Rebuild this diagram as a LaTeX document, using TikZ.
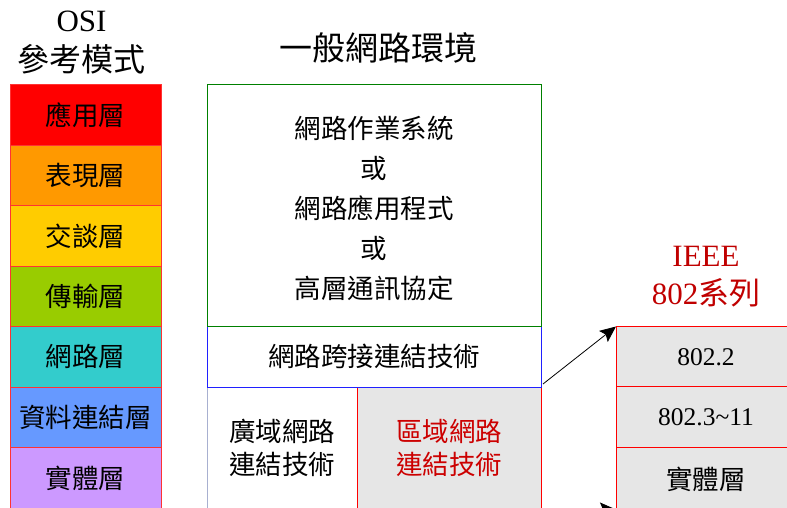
\documentclass[tikz,border=0pt]{standalone}
\usepackage{fontspec}
\setmainfont{Liberation Serif}
\newfontfamily\cjk{Noto Sans CJK TC}
\usetikzlibrary{arrows.meta}
\definecolor{osiA}{HTML}{FF0000}
\definecolor{osiB}{HTML}{FF9900}
\definecolor{osiC}{HTML}{FFCC00}
\definecolor{osiD}{HTML}{99CC00}
\definecolor{osiE}{HTML}{33CCCC}
\definecolor{osiF}{HTML}{6699FF}
\definecolor{osiG}{HTML}{CC99FF}
\definecolor{boxgray}{HTML}{E6E6E6}
\definecolor{darkred}{HTML}{C00000}
\definecolor{lanred}{HTML}{CC0000}
\definecolor{wanedge}{HTML}{A8B0D0}
\definecolor{osiedge}{HTML}{FF3333}
\definecolor{boxgreen}{HTML}{008000}
\definecolor{bridgeedge}{HTML}{2020FF}
\begin{document}
\begin{tikzpicture}[x=1pt,y=-1pt,
  cell/.style={rectangle, anchor=north west, inner sep=0pt, outer sep=0pt, line width=1pt,
    font=\cjk\fontsize{26.5}{33}\selectfont, align=center},
  osi/.style={cell, draw=osiedge, minimum width=151pt, minimum height=60.4pt},
  ieee/.style={cell, draw=red, fill=boxgray, minimum width=180pt, minimum height=60.4pt},
  arr/.style={-{Stealth[length=16pt,width=14pt,inset=3pt]}, line width=0.8pt},
  lbl/.style={inner sep=0pt, align=center}
]
\useasboundingbox (0,0) rectangle (787,508);
\clip (0,0) rectangle (787,508);

% OSI column
\node[lbl, font=\fontsize{31}{36}\selectfont] (osi) at (81.5,21) {OSI};
\node[lbl, font=\cjk\fontsize{32}{36}\selectfont] (ref) at (81.5,59.5) {參考模式};
\node[osi, fill=osiA] (app) at (10,85) {應用層};
\node[osi, fill=osiB] (pre) at (app.south west) {表現層};
\node[osi, fill=osiC] (ses) at (pre.south west) {交談層};
\node[osi, fill=osiD] (tra) at (ses.south west) {傳輸層};
\node[osi, fill=osiE] (net) at (tra.south west) {網路層};
\node[osi, fill=osiF] (dl) at (net.south west) {資料連結層};
\node[osi, fill=osiG, minimum height=61.6pt] (phy) at (dl.south west) {實體層};

% middle column
\node[lbl, font=\cjk\fontsize{33}{36}\selectfont] (title) at (378,47.5) {一般網路環境};
\node[cell, minimum width=150pt, minimum height=122pt] (wan) at (207,387) {廣域網路\\連結技術};
\node[cell, fill=boxgray, text=lanred, minimum width=184pt, minimum height=122pt] (lan) at (wan.north east) {區域網路\\連結技術};
\draw[wanedge, line width=1pt] (wan.north west) -- (wan.south west);
\draw[red, line width=1pt] (lan.south west) -- (lan.north west) -- (lan.north east) -- (lan.south east);
\node[cell, draw=bridgeedge, minimum width=334pt, minimum height=60.5pt] (bridge) at (207,326.5) {網路跨接連結技術};
\node[cell, draw=boxgreen, minimum width=334pt, minimum height=241.5pt,
  font=\cjk\fontsize{26.5}{40}\selectfont] (nos) at (207,85)
  {\rule{0pt}{28.5pt}網路作業系統\\或\\網路應用程式\\或\\高層通訊協定};

% IEEE column
\node[lbl, text=darkred, font=\fontsize{31}{36}\selectfont] (ieeeA) at (706,256) {IEEE};
\node[lbl, text=darkred, font=\fontsize{31}{36}\selectfont] (ieeeB) at (706,293) {802{\cjk 系列}};
\node[ieee, font=\fontsize{25.5}{30}\selectfont] (llc) at (616,326.5) {802.2};
\node[ieee, font=\fontsize{25.5}{30}\selectfont] (mac) at (llc.south west) {802.3\textasciitilde 11};
\node[ieee, minimum height=64pt] (phy2) at (mac.south west) {實體層};

% arrows
\draw[arr] ([shift={(2,-3)}]bridge.south east) -- (llc.north west);
\coordinate (a2s) at (542,509.5);
\draw[arr] (a2s) -- (a2s -| phy2.west);
\end{tikzpicture}
\end{document}
